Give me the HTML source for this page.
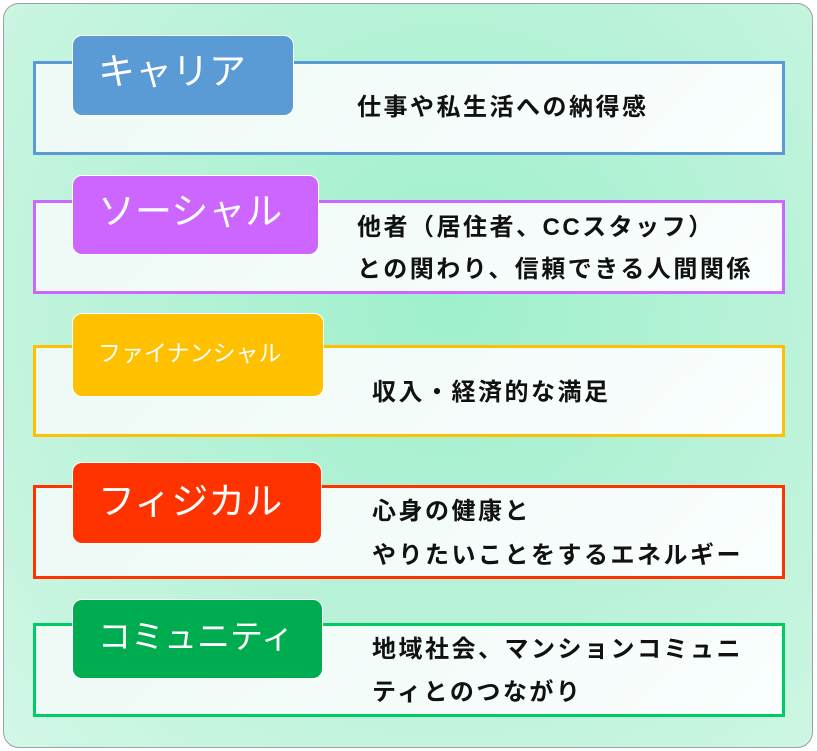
<!DOCTYPE html>
<html><head><meta charset="utf-8"><style>
body{margin:0;width:817px;height:751px;background:#fff;position:relative;overflow:hidden;font-family:"Liberation Sans","Noto Sans CJK JP",sans-serif}
.outer{position:absolute;left:3px;top:3px;width:808px;height:743px;border:1px solid #a0a0a0;border-radius:16px;background:radial-gradient(ellipse at 55% 40%,#9ef0cc 0%,#b8f2d8 50%,#d2f7e6 100%)}
.box{position:absolute;left:33px;width:746px;border:3px solid;background:linear-gradient(135deg,#eefaf6,#fafefe)}
.tab{position:absolute;left:72px;border-radius:10px;color:#fff;border:1px solid #fff;box-sizing:border-box;padding-left:25px;font-size:37px;line-height:1}
.t{position:absolute;font-weight:bold;font-size:24px;letter-spacing:2.5px;color:#111;white-space:nowrap;line-height:1}
</style></head><body>
<div class="outer"></div>
<div class="box" style="top:61px;height:88px;border-color:#5b9bd5"></div>
<div class="tab" style="top:35px;width:222px;height:81px;background:#5b9bd5;padding-top:17px">キャリア</div>
<div class="t" style="left:357px;top:96px">仕事や私生活への納得感</div>

<div class="box" style="top:200px;height:88px;border-color:#cc66ff"></div>
<div class="tab" style="top:175px;width:247px;height:80px;background:#cc66ff;padding-top:17px">ソーシャル</div>
<div class="t" style="left:357px;top:216px">他者（居住者、CCスタッフ）</div>
<div class="t" style="left:357px;top:258px">との関わり、信頼できる人間関係</div>

<div class="box" style="top:345px;height:86px;border-color:#ffc000"></div>
<div class="tab" style="top:313px;width:252px;height:84px;background:#ffc000;padding-top:28px;font-size:23px">ファイナンシャル</div>
<div class="t" style="left:372px;top:381px">収入・経済的な満足</div>

<div class="box" style="top:485px;height:88px;border-color:#ff3300"></div>
<div class="tab" style="top:462px;width:250px;height:82px;background:#ff3300;padding-top:20px">フィジカル</div>
<div class="t" style="left:372px;top:500px">心身の健康と</div>
<div class="t" style="left:372px;top:544px">やりたいことをするエネルギー</div>

<div class="box" style="top:623px;height:88px;border-color:#00cc66"></div>
<div class="tab" style="top:599px;width:251px;height:80px;background:#00ac50;padding-top:20px;font-size:33px">コミュニティ</div>
<div class="t" style="left:372px;top:638px">地域社会、マンションコミュニ</div>
<div class="t" style="left:372px;top:681px">ティとのつながり</div>
</body></html>
